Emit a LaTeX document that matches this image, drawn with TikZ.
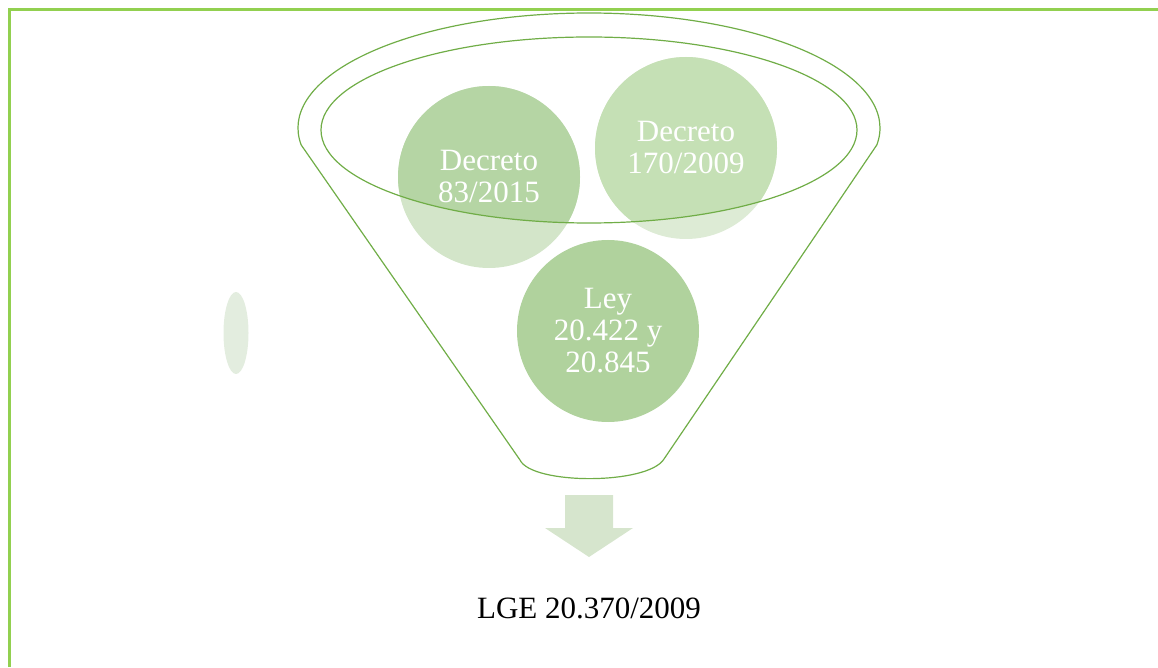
\documentclass[tikz,border=0pt]{standalone}
\usepackage{fontspec}
\setmainfont{Liberation Serif}
\definecolor{frame}{RGB}{146,208,80}
\definecolor{funnel}{RGB}{112,173,71}
\definecolor{cLin}{RGB}{181,213,164}
\definecolor{cLout}{RGB}{211,229,201}
\definecolor{cRin}{RGB}{197,224,181}
\definecolor{cRout}{RGB}{221,235,213}
\definecolor{cLey}{RGB}{176,210,157}
\definecolor{cSmall}{RGB}{227,237,223}
\definecolor{cArrow}{RGB}{214,229,205}
\begin{document}
\begin{tikzpicture}[x=1pt,y=1pt,
  bubble/.style={circle,minimum size=182pt,inner sep=0pt,draw=none},
  bubbletext/.style={text=white,align=center,font=\fontsize{31}{32}\selectfont},
  funnelline/.style={draw=funnel,line width=1.2pt}]
\useasboundingbox (0,0) rectangle (1158,667);
% frame
\draw[frame,line width=3pt] (9,0) -- (9,657) -- (1158,657);
% small ellipse
\fill[cSmall] (236,334) ellipse [x radius=12.5, y radius=41];
% circles
\node[bubble,fill=cLout] (d83) at (489,490) {};
\node[bubble,fill=cRout] (d170) at (686,519) {};
\node[bubble,fill=cLey] (ley) at (608,336) {};
\begin{scope}
  \clip (589,537) ellipse [x radius=268, y radius=93];
  \fill[cLin] (d83.center) circle (91);
  \fill[cRin] (d170.center) circle (91);
\end{scope}
\node[bubbletext] at (d83) {Decreto\\83/2015};
\node[bubbletext] at (d170) {Decreto\\170/2009};
\node[bubbletext] at (ley) {Ley\\20.422 y\\20.845};
% funnel
\coordinate (c) at (589,539);
\draw[funnelline,line join=round]
  ([shift={(188.5:291 and 115)}]c) arc [start angle=188.5, end angle=-8.5, x radius=291, y radius=115]
  -- (664,208)
  .. controls (648,182) and (532,182) .. (520,207) -- cycle;
\draw[funnelline] (589,537) ellipse [x radius=268, y radius=93];
% arrow
\fill[cArrow] (565,172) -- (613,172) -- (613,139) -- (633,139) -- (589,110) -- (545,139) -- (565,139) -- cycle;
\node[anchor=base,font=\fontsize{31}{33}\selectfont] (lge) at (589,49) {LGE 20.370/2009};
\end{tikzpicture}
\end{document}
